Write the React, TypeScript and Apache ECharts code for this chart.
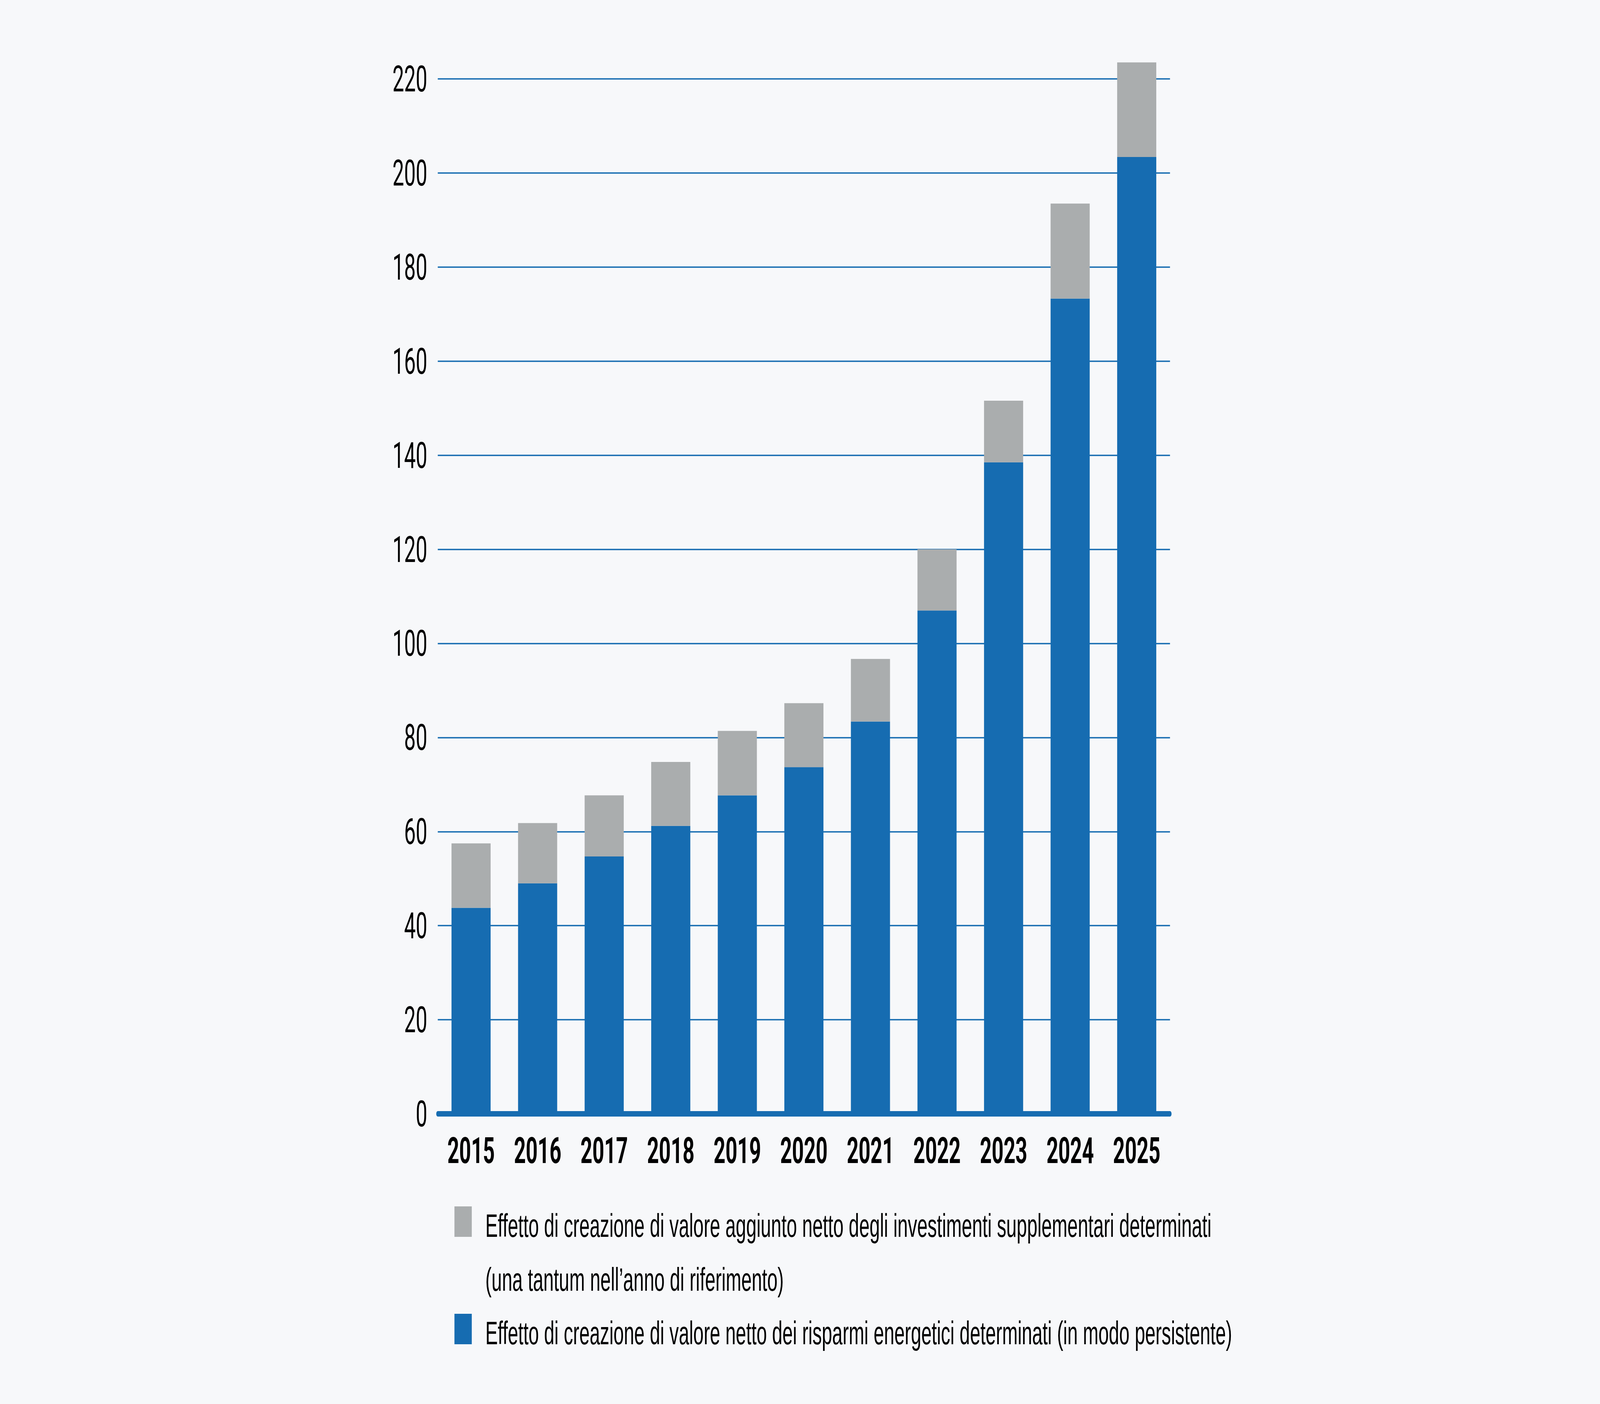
import { useEffect, useRef, useState } from 'react';
import * as echarts from 'echarts';

const categories = ['2015', '2016', '2017', '2018', '2019', '2020', '2021', '2022', '2023', '2024', '2025'];
const persistentValues = [43.8, 49.0, 54.7, 61.2, 67.7, 73.7, 83.4, 107.0, 138.5, 173.3, 203.4];
const oneOffValues = [13.7, 12.8, 13.0, 13.6, 13.7, 13.6, 13.3, 13.0, 13.1, 20.2, 20.1];
const yMin = 0;
const yMax = 220;
const yInterval = 20;
const oneOffName = 'Effetto di creazione di valore aggiunto netto degli investimenti supplementari determinati';
const oneOffNameLine2 = '(una tantum nell\u2019anno di riferimento)';
const persistentName = 'Effetto di creazione di valore netto dei risparmi energetici determinati (in modo persistente)';

const W = 7200;
const H = 3595;
const BG = '#f7f8fa';
const BLUE = '#166cb1';
const GREY = '#aaadae';
const AXIS_FONT = 'Roboto, "Noto Sans", sans-serif';
const LEGEND_FONT = '"Liberation Sans", Arial, Roboto, sans-serif';
const LEGEND_LINE1_WIDTH = 3322;
const LEGEND_LINE3_WIDTH = 3305;
const LEGEND_X = 2184;
const LEGEND_BASELINES = [3167, 3305, 3442];

function measureWidth(text: string, font: string): number {
  const ctx = document.createElement('canvas').getContext('2d');
  if (!ctx) return 0;
  ctx.font = font;
  return ctx.measureText(text).width;
}

export default function App() {
  const ref = useRef<HTMLDivElement>(null);
  const [scale, setScale] = useState<[number, number]>([
    typeof window !== 'undefined' ? Math.min(1, window.innerWidth / W) : 1,
    typeof window !== 'undefined' ? Math.min(1, window.innerHeight / H) : 1,
  ]);
  useEffect(() => {
    document.body.style.margin = '0';
    document.body.style.overflow = 'hidden';
    document.body.style.background = BG;
    setScale([Math.min(1, window.innerWidth / W), Math.min(1, window.innerHeight / H)]);

    const base = 100;
    const m1 = measureWidth(oneOffName, `400 ${base}px ${LEGEND_FONT}`);
    const m3 = measureWidth(persistentName, `400 ${base}px ${LEGEND_FONT}`);
    const legendSize =
      m1 + m3 > 0 ? Math.round(((base * (LEGEND_LINE1_WIDTH + LEGEND_LINE3_WIDTH)) / (m1 + m3)) * 10) / 10 : 78;
    const legendFont = `400 ${legendSize}px ${LEGEND_FONT}`;
    const mid = (baseline: number) => baseline - 0.3465 * legendSize;

    const chart = echarts.init(ref.current as HTMLDivElement, null, { renderer: 'svg', width: W, height: H });
    chart.setOption({
      animation: false,
      backgroundColor: BG,
      grid: { left: 1970, right: 1935, top: 202, bottom: 743, containLabel: false },
      xAxis: {
        type: 'category',
        data: categories,
        offset: 7,
        axisLine: { lineStyle: { color: BLUE, width: 14 } },
        axisTick: { show: false },
        axisLabel: {
          fontFamily: AXIS_FONT,
          fontWeight: 'bold',
          fontSize: 93,
          color: '#000',
          margin: 87,
          verticalAlign: 'middle',
        },
      },
      yAxis: {
        type: 'value',
        min: yMin,
        max: yMax,
        interval: yInterval,
        axisLine: { show: false },
        axisTick: { show: false },
        axisLabel: { fontFamily: AXIS_FONT, fontSize: 93, color: '#000', margin: 47 },
        splitLine: { lineStyle: { color: BLUE, width: 3.5 } },
      },
      series: [
        {
          name: persistentName,
          type: 'bar',
          stack: 'total',
          barWidth: 176,
          clip: false,
          itemStyle: { color: BLUE },
          data: persistentValues,
        },
        {
          name: oneOffName,
          type: 'bar',
          stack: 'total',
          barWidth: 176,
          clip: false,
          itemStyle: { color: GREY },
          data: oneOffValues,
        },
      ],
      graphic: [
        { type: 'rect', left: 2045, top: 3089, shape: { width: 78, height: 78 }, style: { fill: GREY } },
        { type: 'rect', left: 2045, top: 3364, shape: { width: 78, height: 78 }, style: { fill: BLUE } },
        {
          type: 'text', x: LEGEND_X, y: mid(LEGEND_BASELINES[0]),
          style: { text: oneOffName, font: legendFont, fill: '#000', verticalAlign: 'middle', align: 'left' },
        },
        {
          type: 'text', x: LEGEND_X, y: mid(LEGEND_BASELINES[1]),
          style: { text: oneOffNameLine2, font: legendFont, fill: '#000', verticalAlign: 'middle', align: 'left' },
        },
        {
          type: 'text', x: LEGEND_X, y: mid(LEGEND_BASELINES[2]),
          style: { text: persistentName, font: legendFont, fill: '#000', verticalAlign: 'middle', align: 'left' },
        },
      ],
    });
    return () => chart.dispose();
  }, []);
  return (
    <div
      style={{
        position: 'absolute',
        left: 0,
        top: 0,
        width: W,
        height: H,
        transformOrigin: '0 0',
        transform: `scale(${scale[0]}, ${scale[1]})`,
      }}
    >
      <div ref={ref} style={{ width: W, height: H }} />
    </div>
  );
}
